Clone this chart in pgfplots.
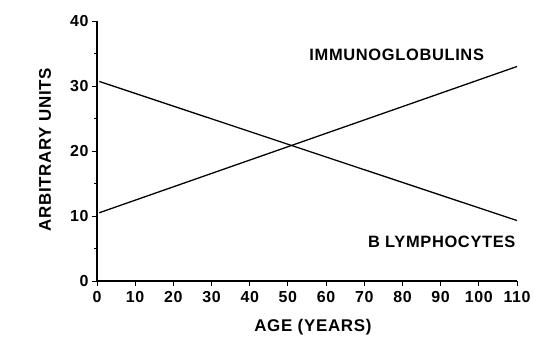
\documentclass[border=0pt]{standalone}
\usepackage{fontspec}
\setmainfont{Liberation Sans}[LetterSpace=4]
\usepackage{pgfplots}
\pgfplotsset{compat=1.18}
\usetikzlibrary{calc}
\begin{document}
\begin{tikzpicture}
\begin{axis}[
  name=a,
  scale only axis,
  width=420bp, height=260bp,
  xmin=0, xmax=110, ymin=0, ymax=40,
  axis x line*=bottom, axis y line*=left,
  axis line style={line width=1.3pt},
  xtick={0,10,...,110},
  ytick={0,10,...,40},
  minor ytick={5,15,25,35},
  tick align=outside,
  major tick length=5bp, minor tick length=3bp,
  tick style={line width=1pt, black},
  /pgf/number format/assume math mode=true,
  ticklabel style={font=\fontsize{16}{18}\selectfont\bfseries},
  xticklabel style={yshift=-1.5bp},
  label style={font=\fontsize{17}{19}\selectfont\bfseries},
  xlabel={AGE (YEARS)},
  ylabel={ARBITRARY UNITS},
  xlabel style={at={(axis description cs:0.514,0)}, anchor=center, yshift=-46bp},
  ylabel style={at={(axis description cs:0,0.504)}, anchor=center, rotate=0, yshift=52bp},
  clip=false,
]
\addplot[black, line width=1.3pt] coordinates {(0.6,10.5) (110,33.0)};
\addplot[black, line width=1.3pt] coordinates {(0.6,30.7) (110,9.3)};
\node[font=\fontsize{16.5}{18}\selectfont\bfseries] at (axis cs:78.5,34.8) {IMMUNOGLOBULINS};
\node[font=\fontsize{16.5}{18}\selectfont\bfseries] at (axis cs:90.3,6.0) {B LYMPHOCYTES};
\end{axis}
\pgfresetboundingbox
\path ($(a.south west)+(-97bp,-73bp)$) rectangle ($(a.north east)+(37bp,21bp)$);
\end{tikzpicture}
\end{document}
